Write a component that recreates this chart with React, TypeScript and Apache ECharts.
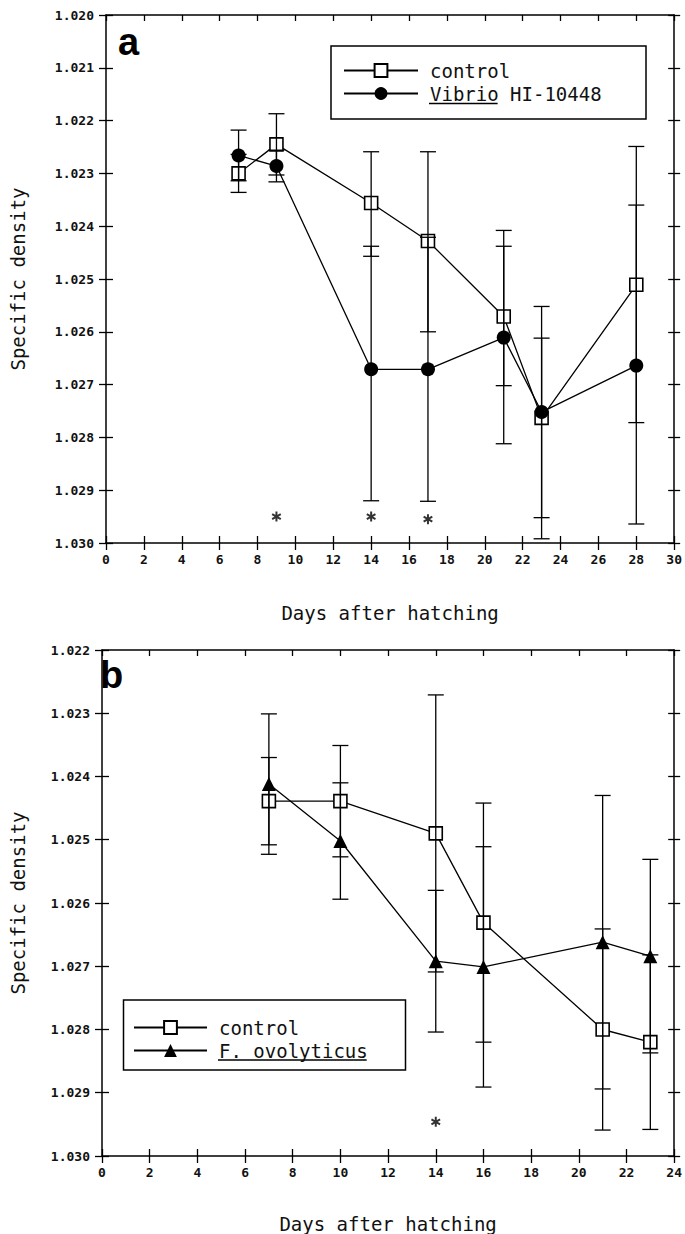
import React, { useEffect, useRef } from "react";
import * as echarts from "echarts";

// ---------- Panel a ----------
const daysA = [7, 9, 14, 17, 21, 23, 28];
const controlA = [1.023, 1.02245, 1.02356, 1.02428, 1.02571, 1.02763, 1.02511];
const controlALow = [1.02264, 1.02187, 1.02259, 1.02259, 1.02438, 1.02612, 1.02249];
const controlAHigh = [1.02336, 1.02303, 1.02457, 1.026, 1.02702, 1.02992, 1.02772];
const vibrioA = [1.02266, 1.02286, 1.02671, 1.02671, 1.02611, 1.02752, 1.02664];
const vibrioALow = [1.02218, 1.02256, 1.02438, 1.02421, 1.02408, 1.02552, 1.0236];
const vibrioAHigh = [1.02314, 1.02316, 1.0292, 1.02921, 1.02812, 1.02952, 1.02964];
const starDaysA = [9, 14, 17];
const starLevelA = [1.0295, 1.0295, 1.02955];

// ---------- Panel b ----------
const daysB = [7, 10, 14, 16, 21, 23];
const controlB = [1.02439, 1.02439, 1.0249, 1.02631, 1.028, 1.0282];
const controlBLow = [1.0237, 1.02351, 1.02271, 1.02442, 1.02641, 1.02682];
const controlBHigh = [1.02508, 1.02527, 1.02709, 1.0282, 1.02959, 1.02958];
const ovoB = [1.02412, 1.02502, 1.02692, 1.02701, 1.02662, 1.02684];
const ovoBLow = [1.02301, 1.0241, 1.0258, 1.02511, 1.0243, 1.02531];
const ovoBHigh = [1.02523, 1.02594, 1.02804, 1.02891, 1.02894, 1.02837];
const starDaysB = [14];
const starLevelB = [1.02946];

// ---------- Axes ----------
const yMinA = 1.02;
const yMinB = 1.022;
const yMax = 1.03;
const yStep = 0.001;
const xMaxA = 30;
const xMaxB = 24;
const xStep = 2;

const seriesNames = {
  control: "control",
  vibrio: "Vibrio HI-10448",
  ovo: "F. ovolyticus",
};

const MONO = "'DejaVu Sans Mono', 'Liberation Mono', monospace";
const INK = "#111";

function xAxes(grid: number, max: number) {
  const base = {
    type: "value",
    gridIndex: grid,
    min: 0,
    max,
    interval: xStep,
    splitLine: { show: false },
  };
  return [
    {
      ...base,
      position: "bottom",
      name: "Days after hatching",
      nameLocation: "middle",
      nameGap: grid === 0 ? 60 : 58,
      nameTextStyle: { fontFamily: MONO, fontSize: 19, color: INK },
      axisLine: { show: true, onZero: false, lineStyle: { color: "#000", width: 1.5 } },
      axisTick: { show: true, inside: false, length: 7, lineStyle: { color: "#000", width: 1.3 } },
      axisLabel: {
        show: true,
        margin: 10,
        fontFamily: MONO,
        fontWeight: "bold",
        fontSize: 13,
        color: INK,
        showMinLabel: true,
        showMaxLabel: true,
      },
    },
    {
      ...base,
      position: "bottom",
      axisLine: { show: false, onZero: false },
      axisTick: { show: true, inside: true, length: 7, lineStyle: { color: "#000", width: 1.3 } },
      axisLabel: { show: false },
    },
    {
      ...base,
      position: "top",
      axisLine: { show: true, onZero: false, lineStyle: { color: "#000", width: 1.5 } },
      axisTick: { show: true, inside: true, length: 6, lineStyle: { color: "#000", width: 1.3 } },
      axisLabel: { show: false },
    },
  ];
}

function yAxes(grid: number, min: number) {
  const base = {
    type: "value",
    gridIndex: grid,
    min,
    max: yMax,
    interval: yStep,
    inverse: true,
    splitLine: { show: false },
  };
  const tick = (inside: boolean, len: number) => ({
    show: true,
    inside,
    length: len,
    lineStyle: { color: "#000", width: 1.3 },
  });
  return [
    {
      ...base,
      position: "left",
      name: "Specific density",
      nameLocation: "middle",
      nameGap: grid === 0 ? 79 : 75,
      nameTextStyle: { fontFamily: MONO, fontSize: 19, color: INK },
      axisLine: { show: true, onZero: false, lineStyle: { color: "#000", width: 1.5 } },
      axisTick: tick(false, 7),
      axisLabel: {
        show: true,
        margin: 12,
        fontFamily: MONO,
        fontWeight: "bold",
        fontSize: 13,
        color: INK,
        formatter: (v: number) => v.toFixed(3),
        showMinLabel: true,
        showMaxLabel: true,
      },
    },
    {
      ...base,
      position: "left",
      axisLine: { show: false, onZero: false },
      axisTick: tick(true, 7),
      axisLabel: { show: false },
    },
    {
      ...base,
      position: "right",
      axisLine: { show: true, onZero: false, lineStyle: { color: "#000", width: 1.5 } },
      axisTick: tick(true, 6),
      axisLabel: { show: false },
    },
    {
      ...base,
      position: "right",
      axisLine: { show: false, onZero: false },
      axisTick: tick(false, 6),
      axisLabel: { show: false },
    },
  ];
}

const errRender = (params: any, api: any) => {
  const x = api.value(0);
  const lo = api.value(1);
  const hi = api.value(2);
  const a = api.coord([x, lo]);
  const b = api.coord([x, hi]);
  const w = 8;
  const style = { stroke: "#000", lineWidth: 1.3 };
  return {
    type: "group",
    children: [
      { type: "line", shape: { x1: a[0], y1: a[1], x2: b[0], y2: b[1] }, style },
      { type: "line", shape: { x1: a[0] - w, y1: a[1], x2: a[0] + w, y2: a[1] }, style },
      { type: "line", shape: { x1: b[0] - w, y1: b[1], x2: b[0] + w, y2: b[1] }, style },
    ],
  };
};

const lineStyle = { color: "#000", width: 1.3 };
const squareStyle = { color: "#fff", borderColor: "#000", borderWidth: 1.6 };
const solidStyle = { color: "#000", borderColor: "#000", borderWidth: 0 };
const ASTERISK = "path://M5,0 L5,10 M0.67,2.5 L9.33,7.5 M0.67,7.5 L9.33,2.5";

function lineSeries(name: string, xi: number, yi: number, days: number[], vals: number[], symbol: string, size: number, itemStyle: any) {
  return {
    type: "line",
    name,
    xAxisIndex: xi,
    yAxisIndex: yi,
    data: days.map((d, i) => [d, vals[i]]),
    symbol,
    symbolSize: size,
    showAllSymbol: true,
    itemStyle,
    lineStyle,
    z: 3,
  };
}

function errSeries(xi: number, yi: number, days: number[], lo: number[], hi: number[]) {
  return {
    type: "custom",
    xAxisIndex: xi,
    yAxisIndex: yi,
    renderItem: errRender,
    data: days.map((d, i) => [d, lo[i], hi[i]]),
    encode: { x: 0, y: [1, 2] },
    z: 4,
    silent: true,
  };
}

function starSeries(xi: number, yi: number, days: number[], lv: number[]) {
  return {
    type: "scatter",
    xAxisIndex: xi,
    yAxisIndex: yi,
    data: days.map((d, i) => [d, lv[i]]),
    symbol: ASTERISK,
    symbolSize: 10,
    symbolKeepAspect: true,
    itemStyle: { color: "#000", borderColor: "#000", borderWidth: 2 },
    z: 3,
  };
}

const adv = 0.602 * 19;

export default function App() {
  const ref = useRef<HTMLDivElement>(null);
  useEffect(() => {
    document.body.style.margin = "0";
    if (!ref.current) return;
    const chart = echarts.init(ref.current, null, { renderer: "svg" });
    const legendText = { fontFamily: MONO, fontSize: 19, color: INK, padding: [0, 0, 0, 7] };
    chart.setOption({
      animation: false,
      backgroundColor: "#fff",
      grid: [
        { left: 105, top: 15, width: 574, height: 528, containLabel: false },
        { left: 92, top: 650, width: 588, height: 515, containLabel: false },
      ],
      xAxis: [...xAxes(0, xMaxA), ...xAxes(1, xMaxB)],
      yAxis: [...yAxes(0, yMinA), ...yAxes(1, yMinB)],
      legend: [
        {
          left: 343,
          top: 61,
          orient: "vertical",
          itemWidth: 74,
          itemHeight: 16,
          itemGap: 4,
          padding: 0,
          selectedMode: false,
          textStyle: legendText,
          data: [seriesNames.control, seriesNames.vibrio],
        },
        {
          left: 133,
          top: 1018,
          orient: "vertical",
          itemWidth: 73,
          itemHeight: 16,
          itemGap: 4,
          padding: 0,
          selectedMode: false,
          textStyle: legendText,
          data: [seriesNames.control, seriesNames.ovo],
        },
      ],
      graphic: [
        {
          type: "text",
          x: 118,
          y: 42,
          style: {
            text: "a",
            fontSize: 38,
            fontWeight: "bold",
            fontFamily: "'Liberation Sans', Arial, sans-serif",
            fill: "#000",
            textVerticalAlign: "middle",
          },
        },
        {
          type: "text",
          x: 100,
          y: 675,
          style: {
            text: "b",
            fontSize: 38,
            fontWeight: "bold",
            fontFamily: "'Liberation Sans', Arial, sans-serif",
            fill: "#000",
            textVerticalAlign: "middle",
          },
        },
        {
          type: "rect",
          shape: { x: 331, y: 46, width: 315, height: 73 },
          style: { fill: "none", stroke: "#000", lineWidth: 1.5 },
        },
        {
          type: "line",
          shape: { x1: 429, y1: 103.5, x2: 429 + 6 * adv, y2: 103.5 },
          style: { stroke: "#000", lineWidth: 1.3 },
        },
        {
          type: "rect",
          shape: { x: 123.5, y: 1000, width: 282, height: 70 },
          style: { fill: "none", stroke: "#000", lineWidth: 1.5 },
        },
        {
          type: "line",
          shape: { x1: 218, y1: 1060, x2: 218 + 13 * adv, y2: 1060 },
          style: { stroke: "#000", lineWidth: 1.3 },
        },
      ],
      series: [
        lineSeries(seriesNames.control, 0, 0, daysA, controlA, "rect", 13, squareStyle),
        lineSeries(seriesNames.vibrio, 0, 0, daysA, vibrioA, "circle", 14, solidStyle),
        errSeries(0, 0, daysA, controlALow, controlAHigh),
        errSeries(0, 0, daysA, vibrioALow, vibrioAHigh),
        starSeries(0, 0, starDaysA, starLevelA),
        lineSeries(seriesNames.control, 3, 4, daysB, controlB, "rect", 13, squareStyle),
        lineSeries(seriesNames.ovo, 3, 4, daysB, ovoB, "triangle", 14, solidStyle),
        errSeries(3, 4, daysB, controlBLow, controlBHigh),
        errSeries(3, 4, daysB, ovoBLow, ovoBHigh),
        starSeries(3, 4, starDaysB, starLevelB),
      ],
    });
    return () => chart.dispose();
  }, []);
  return <div ref={ref} style={{ width: 685, height: 1234 }} />;
}
